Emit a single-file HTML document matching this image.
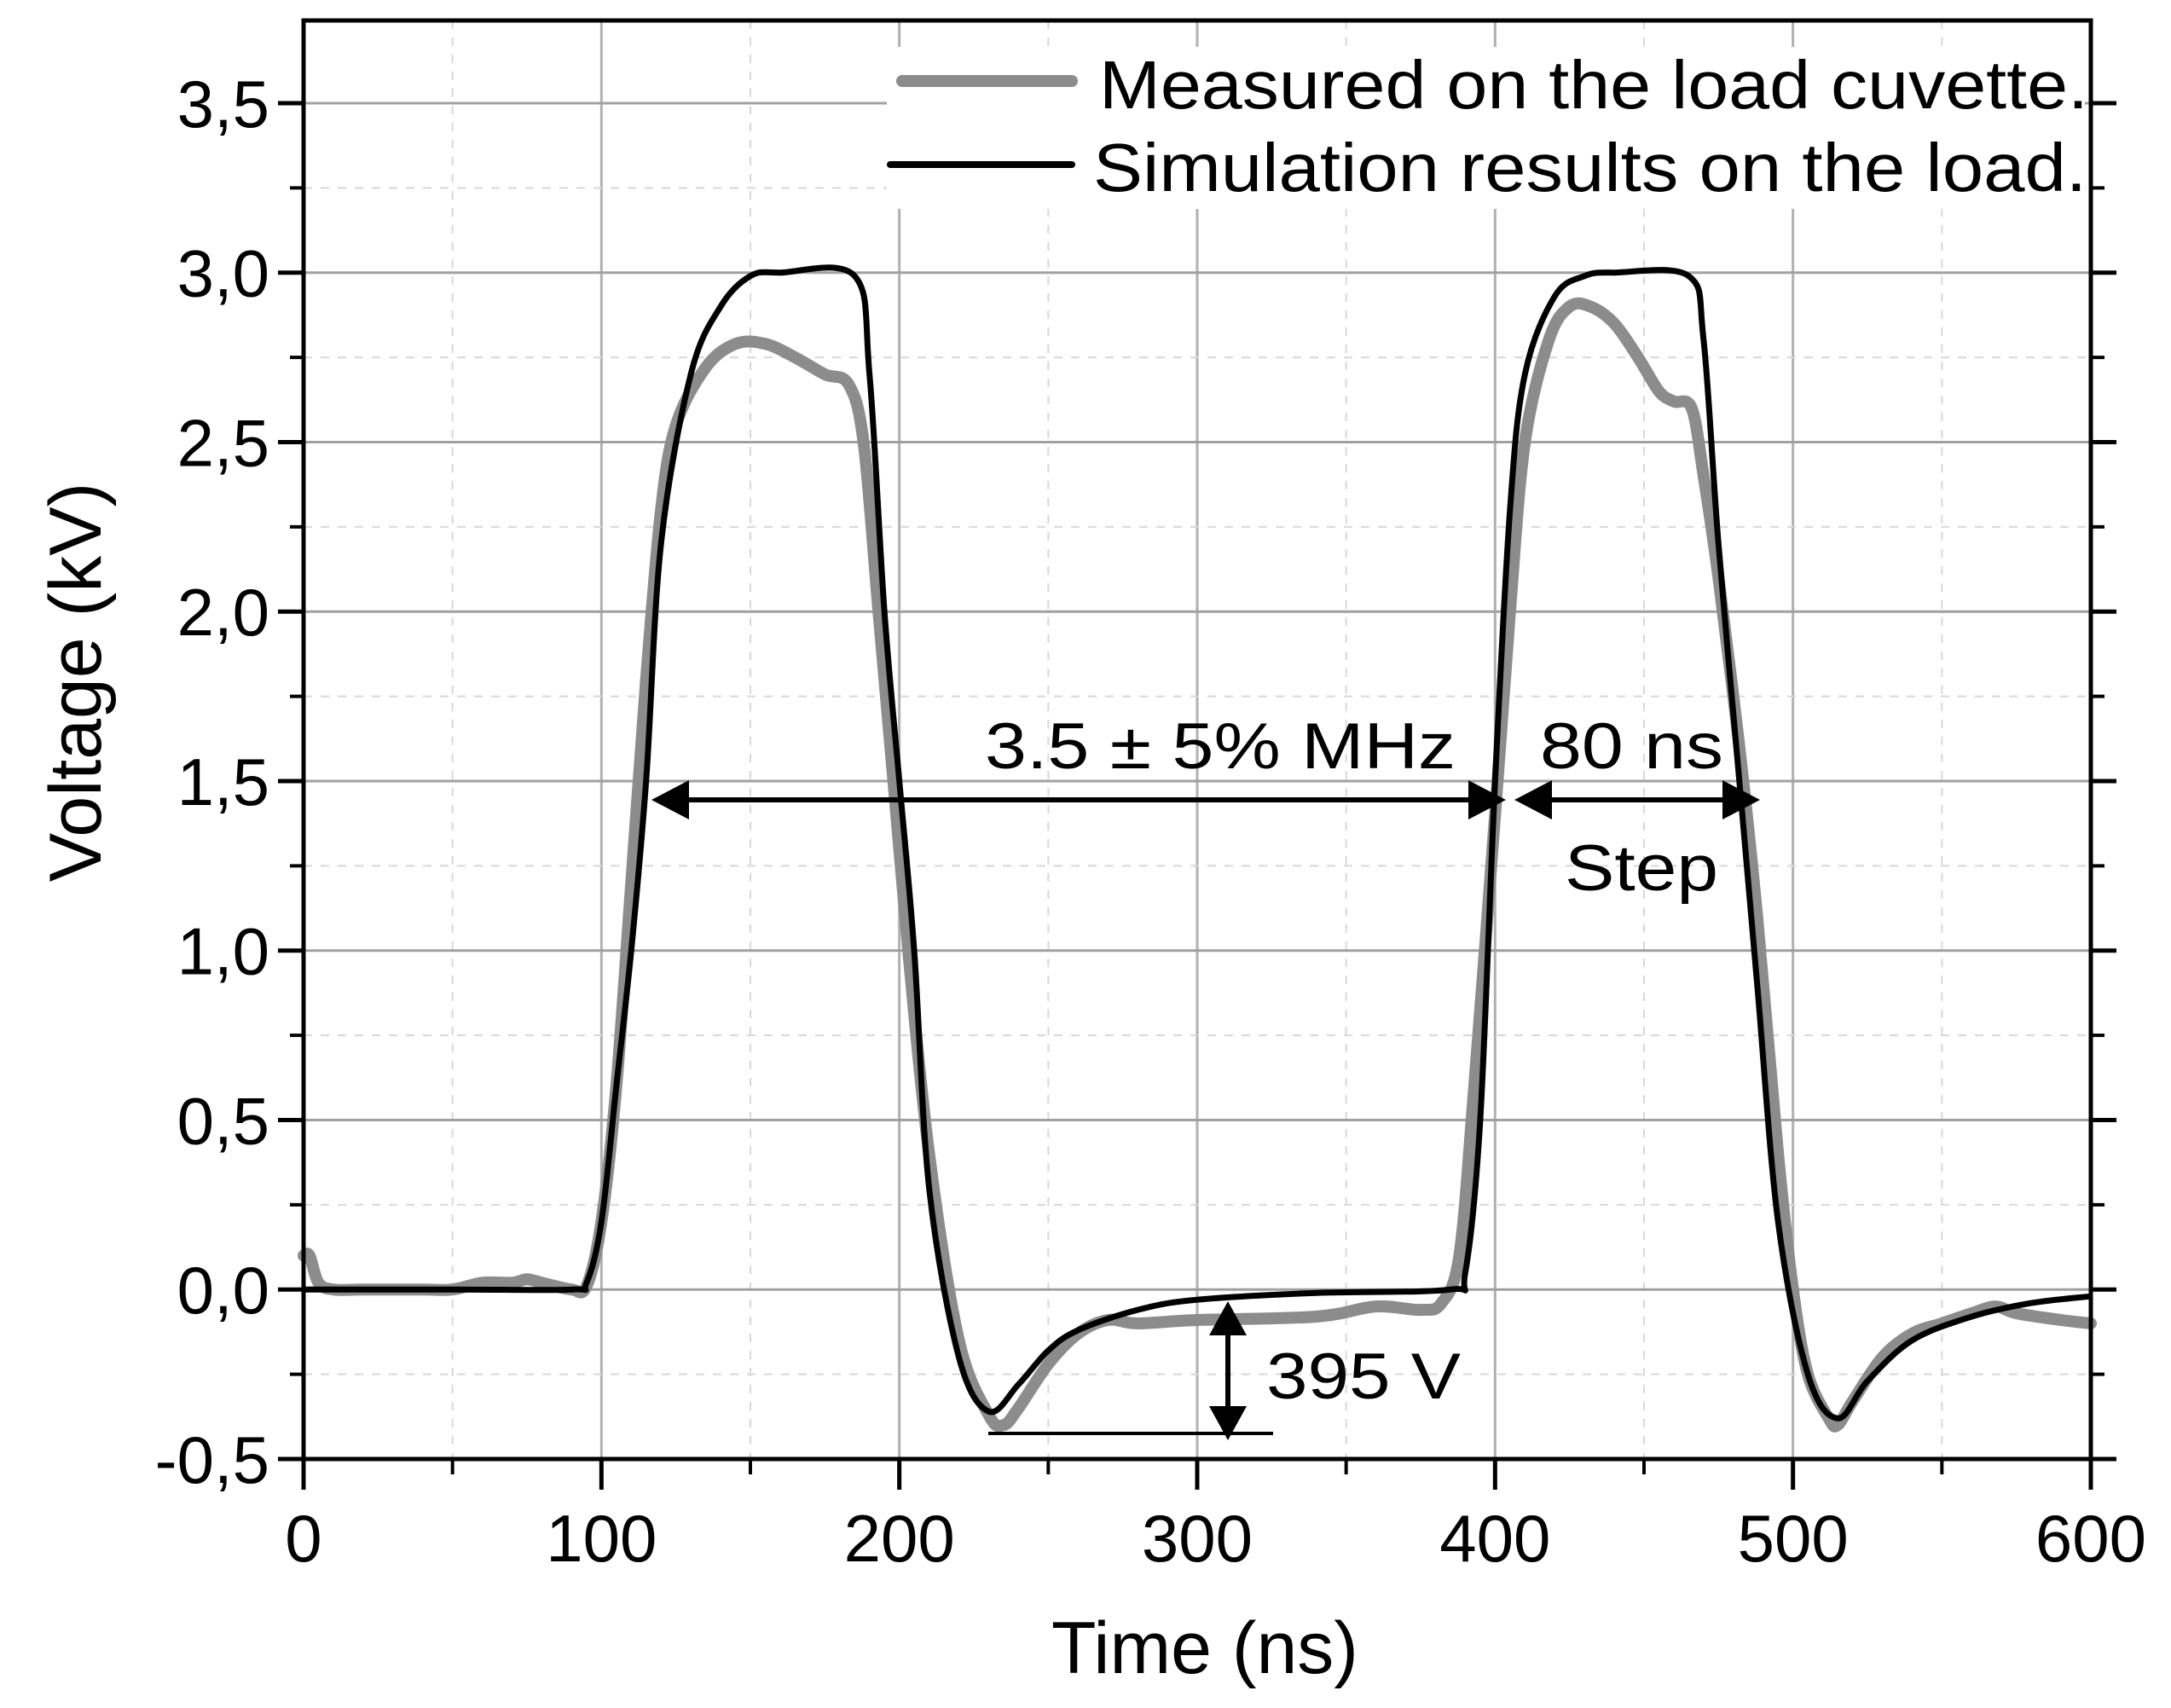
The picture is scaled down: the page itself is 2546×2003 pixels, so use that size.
<!DOCTYPE html>
<html><head><meta charset="utf-8"><style>
html,body{margin:0;padding:0;background:#fff;}
svg{display:block;font-family:"Liberation Sans",Arial,sans-serif;}
</style></head><body>
<svg id="chart" width="2546" height="2003" viewBox="0 0 2546 2003">
<g id="grid"></g>
<g id="series"></g>
<g id="axes"></g>
<g id="annot">
  <text x="1155" y="901" font-size="76" textLength="552" lengthAdjust="spacingAndGlyphs">3.5 ± 5% MHz</text>
  <text x="1806" y="901" font-size="76" textLength="215" lengthAdjust="spacingAndGlyphs">80 ns</text>
  <text x="1835" y="1044" font-size="76" textLength="180" lengthAdjust="spacingAndGlyphs">Step</text>
  <text x="1485" y="1640" font-size="76" textLength="228" lengthAdjust="spacingAndGlyphs">395 V</text>
  <line x1="780" y1="938" x2="1750" y2="938" stroke="#000" stroke-width="6"/>
  <polygon points="764,938 808,915 808,961" fill="#000"/>
  <polygon points="1766,938 1722,915 1722,961" fill="#000"/>
  <line x1="1790" y1="938" x2="2050" y2="938" stroke="#000" stroke-width="6"/>
  <polygon points="1776,938 1820,915 1820,961" fill="#000"/>
  <polygon points="2064,938 2020,915 2020,961" fill="#000"/>
  <line x1="1440" y1="1540" x2="1440" y2="1675" stroke="#000" stroke-width="6"/>
  <polygon points="1440,1526 1418,1566 1462,1566" fill="#000"/>
  <polygon points="1440,1689 1418,1649 1462,1649" fill="#000"/>
  <line x1="1159" y1="1681" x2="1493" y2="1681" stroke="#000" stroke-width="4"/>
</g>
<g id="legend">
  <rect x="1040" y="55" width="1405" height="190" fill="#fff"/>
  <line x1="1058" y1="95" x2="1257" y2="95" stroke="#8c8c8c" stroke-width="14" stroke-linecap="round"/>
  <text x="1289" y="127" font-size="80" textLength="1160" lengthAdjust="spacingAndGlyphs">Measured on the load cuvette.</text>
  <line x1="1044" y1="193" x2="1257" y2="193" stroke="#000" stroke-width="8" stroke-linecap="round"/>
  <text x="1282" y="224" font-size="80" textLength="1165" lengthAdjust="spacingAndGlyphs">Simulation results on the load.</text>
</g>
<text x="1413" y="1962" font-size="86" text-anchor="middle">Time (ns)</text>
<text transform="translate(118,800) rotate(-90)" font-size="86" text-anchor="middle">Voltage (kV)</text>
</svg>
<script>
const xTicks = [0,100,200,300,400,500,600];
const yTicks = [-0.5,0,0.5,1,1.5,2,2.5,3,3.5];
const yTickLabels = ["-0,5","0,0","0,5","1,0","1,5","2,0","2,5","3,0","3,5"];
const measuredT = [0,2,5,10,20,40,50,60,70,75,80,90,95,100,105,110,115,120,125,135,145,155,165,175,183,188,193,198,203,210,220,230,235,240,250,260,270,280,300,340,360,375,382,388,393,400,405,410,418,425,432,440,448,455,460,466,470,475,482,488,495,500,505,512,515,520,530,540,550,560,568,575,590,600];
const measuredV = [0.1,0.1,0.02,0.0,0.0,0.0,0.0,0.02,0.02,0.03,0.02,0.0,0.01,0.2,0.6,1.2,1.8,2.3,2.55,2.72,2.79,2.79,2.75,2.7,2.67,2.5,2.0,1.5,1.0,0.4,-0.15,-0.37,-0.4,-0.35,-0.22,-0.13,-0.09,-0.1,-0.09,-0.08,-0.05,-0.06,-0.04,0.1,0.6,1.4,2.0,2.5,2.8,2.9,2.9,2.85,2.75,2.65,2.62,2.6,2.4,2.1,1.6,1.1,0.4,0.0,-0.25,-0.38,-0.4,-0.33,-0.2,-0.13,-0.1,-0.07,-0.05,-0.07,-0.09,-0.1];
const simT = [0,50,90,95,100,105,110,115,120,130,140,150,160,185,190,195,200,205,210,220,230,240,250,260,280,300,340,385,390,395,400,405,410,420,430,440,465,470,475,482,488,495,505,515,525,540,560,580,600];
const simV = [0,0,0,0.02,0.2,0.6,1.0,1.5,2.2,2.7,2.9,2.99,3.0,2.99,2.7,2.0,1.5,1.0,0.3,-0.2,-0.36,-0.28,-0.18,-0.12,-0.06,-0.03,-0.01,0,0.05,0.5,1.5,2.3,2.7,2.93,2.99,3.0,2.99,2.8,2.2,1.5,0.9,0.2,-0.25,-0.38,-0.27,-0.15,-0.08,-0.04,-0.02];

const L=356,R=2452,T=24,B=1711,YMIN=-0.5,YMAX=3.744;
const xs=t=>L+(t-0)/(600-0)*(R-L);
const ys=v=>B-(v-YMIN)/(YMAX-YMIN)*(B-T);
const NS="http://www.w3.org/2000/svg";
function mk(tag,attrs,parent){const e=document.createElementNS(NS,tag);for(const k in attrs)e.setAttribute(k,attrs[k]);parent.appendChild(e);return e;}
const grid=document.getElementById('grid'),axes=document.getElementById('axes'),series=document.getElementById('series');
for(let t=50;t<600;t+=50){
  const major=t%100===0;
  const g=mk('line',{x1:xs(t),x2:xs(t),y1:T,y2:B,stroke:major?'#b0b0b0':'#d8d8d8','stroke-width':major?3:2,'stroke-dasharray':major?'none':'10,10'},grid);
  
  
}
for(let v=-0.25;v<3.74;v+=0.25){
  const major=Math.abs(v*2-Math.round(v*2))<1e-6;
  const g=mk('line',{x1:L,x2:R,y1:ys(v),y2:ys(v),stroke:major?'#a0a0a0':'#d8d8d8','stroke-width':major?3:2,'stroke-dasharray':major?'none':'10,10'},grid);
  
  
}
function path(T_,V_){
  const p=T_.map((t,i)=>[xs(t),ys(V_[i])]);
  let d='M'+p[0][0].toFixed(1)+','+p[0][1].toFixed(1);
  for(let i=0;i<p.length-1;i++){
    const p0=p[Math.max(i-1,0)],p1=p[i],p2=p[i+1],p3=p[Math.min(i+2,p.length-1)];
    const c1=[p1[0]+(p2[0]-p0[0])/6,p1[1]+(p2[1]-p0[1])/6];
    const c2=[p2[0]-(p3[0]-p1[0])/6,p2[1]-(p3[1]-p1[1])/6];
    d+=' C'+c1[0].toFixed(1)+','+c1[1].toFixed(1)+' '+c2[0].toFixed(1)+','+c2[1].toFixed(1)+' '+p2[0].toFixed(1)+','+p2[1].toFixed(1);
  }
  return d;
}
const pm=mk('path',{d:path(measuredT,measuredV),fill:'none',stroke:'#8c8c8c','stroke-width':14,'stroke-linejoin':'round','stroke-linecap':'round'},series);


const ps=mk('path',{d:path(simT,simV),fill:'none',stroke:'#000','stroke-width':7,'stroke-linejoin':'round'},series);


const fr=mk('rect',{x:L,y:T,width:R-L,height:B-T,fill:'none',stroke:'#000','stroke-width':5},axes);


xTicks.forEach(t=>{
  const l=mk('line',{x1:xs(t),x2:xs(t),y1:B,y2:B+36,stroke:'#000','stroke-width':5},axes);
  
  
  const tx=mk('text',{x:xs(t),y:1831,'font-size':78,'text-anchor':'middle'},axes);
  tx.textContent=String(t);
  
  
});
for(let t=50;t<600;t+=100){
  const l=mk('line',{x1:xs(t),x2:xs(t),y1:B,y2:B+18,stroke:'#000','stroke-width':4},axes);
  
  
}
yTicks.forEach((v,i)=>{
  const l=mk('line',{x1:L-30,x2:L,y1:ys(v),y2:ys(v),stroke:'#000','stroke-width':5},axes);
  
  
  const l2=mk('line',{x1:R,x2:R+30,y1:ys(v),y2:ys(v),stroke:'#000','stroke-width':5},axes);
  
  
  const tx=mk('text',{x:L-40,y:ys(v)+28,'font-size':78,'text-anchor':'end'},axes);
  tx.textContent=yTickLabels[i];
  
  
});
for(let v=-0.25;v<3.74;v+=0.5){
  const l=mk('line',{x1:L-16,x2:L,y1:ys(v),y2:ys(v),stroke:'#000','stroke-width':4},axes);
  
  
  const l2=mk('line',{x1:R,x2:R+16,y1:ys(v),y2:ys(v),stroke:'#000','stroke-width':4},axes);
  
  
}
</script>
</body></html>
